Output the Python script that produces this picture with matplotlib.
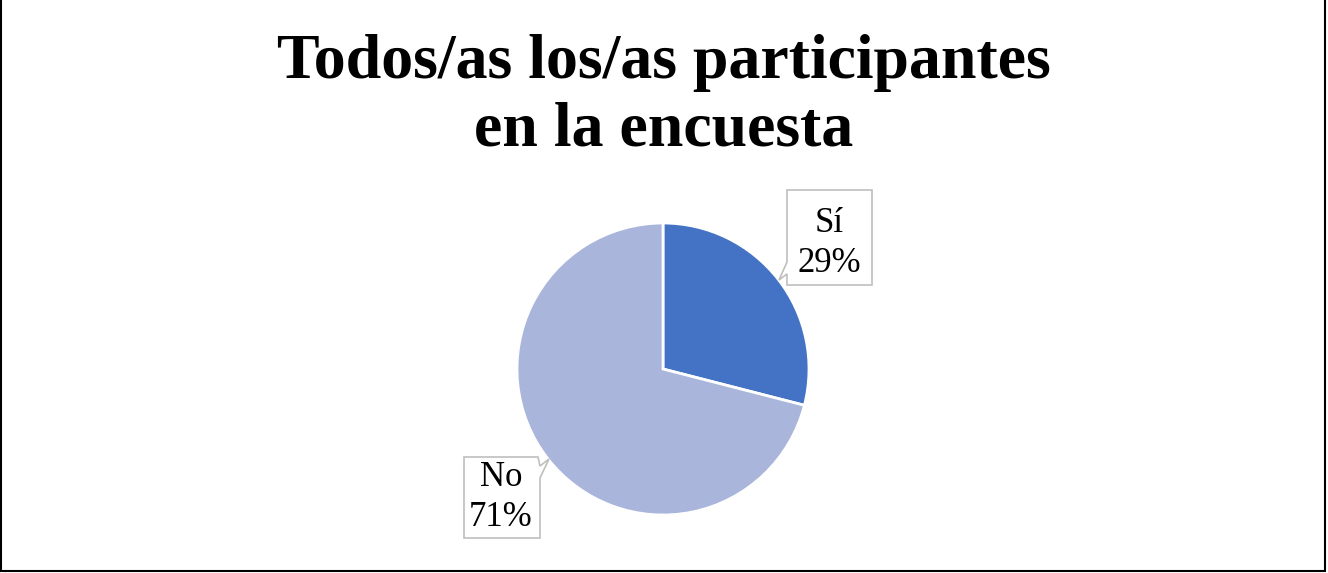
import matplotlib.pyplot as plt
from matplotlib.patches import Polygon

# Survey answers
labels = ['Sí', 'No']
values = [29, 71]
colors = ['#4472C4', '#A9B5DB']

title = 'Todos/as los/as participantes\nen la encuesta'

plt.rcParams['font.family'] = ['Liberation Serif', 'DejaVu Serif']

fig = plt.figure(figsize=(13.28, 5.73), dpi=100)
ax = fig.add_axes([0, 0, 1, 1])

# Pie (y axis inverted below, so counterclock here runs clockwise on screen)
wedges, _ = ax.pie(values, colors=colors, startangle=-90, counterclock=True,
                   center=(663, 369), radius=146,
                   wedgeprops=dict(edgecolor='white', linewidth=2))

ax.set_xlim(0, 1328)
ax.set_ylim(573, 0)
ax.set_aspect('equal', adjustable='box')
ax.axis('off')

# Callout boxes for the data labels
callouts = {
    'Sí': dict(box=[(787, 190), (872, 190), (872, 285), (787, 285), (787, 274),
                    (779, 280), (787, 262)],
               text=(829, 244)),
    'No': dict(box=[(464, 457), (538, 457), (540, 466), (549, 459), (540, 478),
                    (540, 538), (464, 538)],
               text=(501, 498)),
}
for lab, val in zip(labels, values):
    c = callouts[lab]
    ax.add_patch(Polygon(c['box'], closed=True, facecolor='white',
                         edgecolor='#BFBFBF', linewidth=1.2, zorder=3))
    ax.text(*c['text'], f'{lab}\n{val}%', ha='center', va='center',
            fontsize=25, linespacing=1.28, zorder=4)

# Title
ax.text(664, 34, title, ha='center', va='top', fontsize=46,
        fontweight='bold', linespacing=1.22)

# Frame around the chart area
ax.plot([1, 1, 1325, 1325], [0, 571, 571, 0], color='black', lw=1.5,
        solid_joinstyle='miter', clip_on=False)

fig.savefig('out.png', dpi=100)
